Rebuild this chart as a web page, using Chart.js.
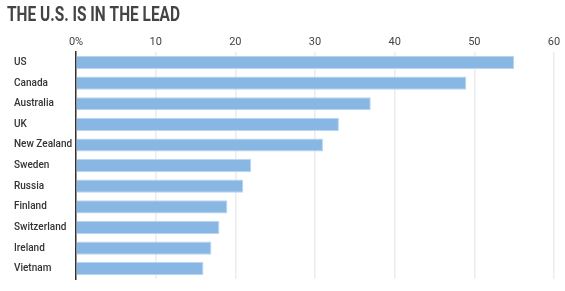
<!DOCTYPE html>
<html><head><meta charset="utf-8">
<script src="https://cdn.jsdelivr.net/npm/chart.js@4"></script>
<style>html,body{margin:0;padding:0;background:#fff}#w{width:565px;height:291px}</style>
</head><body><div id="w"><canvas id="c"></canvas></div>
<script>
const categories = ["US","Canada","Australia","UK","New Zealand","Sweden","Russia","Finland","Switzerland","Ireland","Vietnam"];
const values = [55,49,37,33,31,22,21,19,18,17,16];
const tickLabels = {0:"0%",10:"10",20:"20",30:"30",40:"40",50:"50",60:"60"};
const titleText = "THE U.S. IS IN THE LEAD";

const titlePlugin = {
  id: 'condTitle',
  afterDraw(chart) {
    const ctx = chart.ctx;
    ctx.save();
    ctx.font = 'bold 21px Roboto, sans-serif';
    ctx.fillStyle = '#444';
    ctx.textBaseline = 'alphabetic';
    ctx.textAlign = 'left';
    const w = ctx.measureText(titleText).width;
    const target = 173;
    ctx.translate(7, 21);
    ctx.scale(target / w, 1);
    ctx.fillText(titleText, 0, 0);
    ctx.restore();
  }
};

new Chart(document.getElementById('c'), {
  type: 'bar',
  data: { labels: categories, datasets: [{ data: values, backgroundColor: '#89b7e3', borderColor: '#b9d5f0', borderWidth: 1, barPercentage: 0.64, categoryPercentage: 1 }] },
  options: {
    indexAxis: 'y', responsive: true, maintainAspectRatio: false, animation: false,
    layout: { padding: { left: 14, right: 11, top: 33, bottom: 12 } },
    plugins: { legend: { display: false }, tooltip: { enabled: false } },
    scales: {
      x: { position: 'top', min: 0, max: 60,
        ticks: { stepSize: 10, color: '#444', font: { family: 'Roboto', size: 11 }, padding: 3, callback: v => tickLabels[v] },
        grid: { color: '#ececf0', lineWidth: 1.5, drawTicks: false, tickLength: 0 },
        border: { display: false } },
      y: { ticks: { crossAlign: 'far', color: '#333', font: { family: 'Roboto', size: 10, weight: '500' }, padding: 4 },
        grid: { display: false }, border: { color: '#333', width: 1.5 },
        afterFit: s => { s.width = 62; } }
    }
  },
  plugins: [titlePlugin]
});
</script></body></html>
